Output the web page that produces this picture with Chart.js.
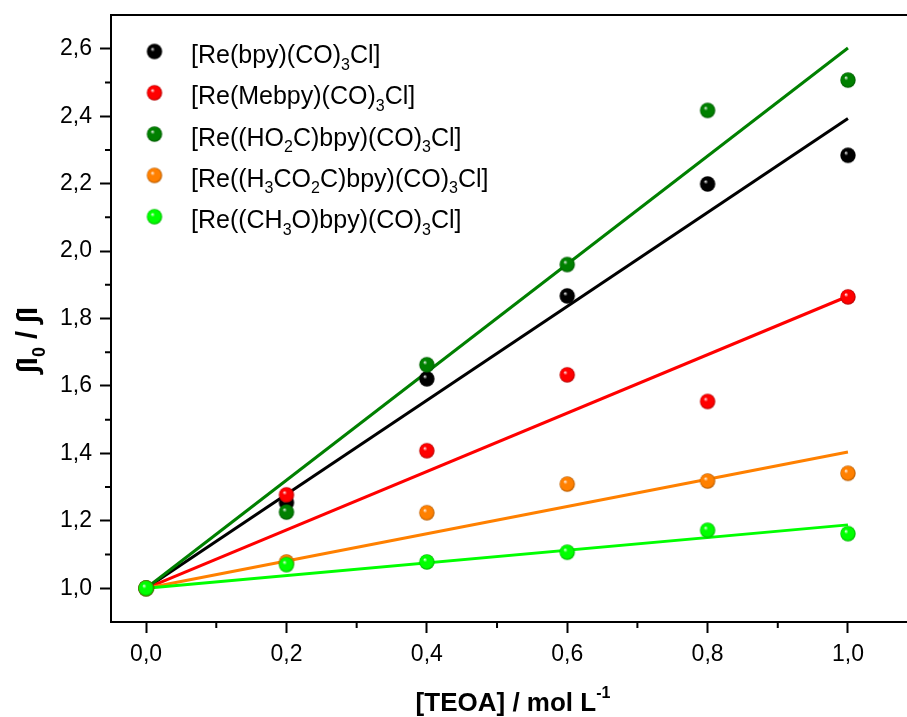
<!DOCTYPE html>
<html>
<head>
<meta charset="utf-8">
<script src="https://cdn.jsdelivr.net/npm/chart.js@4/dist/chart.umd.min.js"></script>
<style>
  html, body { margin: 0; padding: 0; background: #fff; overflow: hidden; }
  #chart { display: block; }
</style>
</head>
<body>
<canvas id="chart" width="907" height="717"></canvas>
<script>
// TEOA concentration (mol/L) and quenching ratios per complex
const teoa = [0, 0.2, 0.4, 0.6, 0.8, 1.0];
const reBpy = [1.0, 1.254, 1.621, 1.867, 2.199, 2.284];
const reMebpy = [1.0, 1.277, 1.408, 1.633, 1.554, 1.864];
const reHO2Cbpy = [1.0, 1.226, 1.663, 1.960, 2.417, 2.507];
const reH3CO2Cbpy = [1.0, 1.078, 1.224, 1.309, 1.318, 1.341];
const reCH3Obpy = [1.0, 1.070, 1.078, 1.107, 1.172, 1.162];

// linear fits, value at [TEOA] = 0 and 1
const fitStart = [1.0, 1.0, 1.0, 1.0, 1.0];
const fitEnd = [2.393, 1.866, 2.602, 1.404, 1.188];

const names = [
  "[Re(bpy)(CO)_3Cl]",
  "[Re(Mebpy)(CO)_3Cl]",
  "[Re((HO_2C)bpy)(CO)_3Cl]",
  "[Re((H_3CO_2C)bpy)(CO)_3Cl]",
  "[Re((CH_3O)bpy)(CO)_3Cl]"
];
const colors = ["#000000", "#ff0000", "#008000", "#ff8000", "#00ff00"];
const series = [reBpy, reMebpy, reHO2Cbpy, reH3CO2Cbpy, reCH3Obpy];

const xMajor = [0, 0.2, 0.4, 0.6, 0.8, 1.0];
const xMinor = [0.1, 0.3, 0.5, 0.7, 0.9];
const yMajor = [1.0, 1.2, 1.4, 1.6, 1.8, 2.0, 2.2, 2.4, 2.6];
const yMinor = [1.1, 1.3, 1.5, 1.7, 1.9, 2.1, 2.3, 2.5];

const FONT = '"Liberation Sans", Arial, sans-serif';

// shaded ball marker
function darken(hex, f) {
  const n = parseInt(hex.slice(1), 16);
  const r = Math.round(((n >> 16) & 255) * f);
  const g = Math.round(((n >> 8) & 255) * f);
  const b = Math.round((n & 255) * f);
  return `rgb(${r},${g},${b})`;
}
function makeBall(color, r) {
  const size = Math.ceil(r * 2 + 2);
  const c = document.createElement("canvas");
  c.width = size; c.height = size;
  const g = c.getContext("2d");
  const m = size / 2;
  const grad = g.createRadialGradient(m - r * 0.3, m - r * 0.35, 0, m, m, r);
  grad.addColorStop(0, "#ffffff");
  grad.addColorStop(0.28, color);
  grad.addColorStop(0.8, color);
  grad.addColorStop(1, darken(color, 0.7));
  g.fillStyle = grad;
  g.beginPath();
  g.arc(m, m, r, 0, Math.PI * 2);
  g.fill();
  return c;
}
const balls = colors.map(c => makeBall(c, 7.7));

// draws "A_2B" style text with subscripts / "^" superscripts
function drawRich(ctx, str, x, y, size, bold) {
  const w = bold ? "bold " : "";
  const parts = str.split(/([_^]-?\d)/).filter(s => s.length);
  let cx = x;
  for (const p of parts) {
    if (p[0] === "_" || p[0] === "^") {
      ctx.font = w + Math.round(size * 0.62) + "px " + FONT;
      const dy = p[0] === "_" ? size * 0.26 : -size * 0.5;
      ctx.fillText(p.slice(1), cx, y + dy);
      cx += ctx.measureText(p.slice(1)).width;
    } else {
      ctx.font = w + size + "px " + FONT;
      ctx.fillText(p, cx, y);
      cx += ctx.measureText(p).width;
    }
  }
  return cx - x;
}
function richWidth(ctx, str, size, bold) {
  ctx.save();
  ctx.globalAlpha = 0;
  const wd = drawRich(ctx, str, 0, -1000, size, bold);
  ctx.restore();
  return wd;
}

const decorations = {
  id: "decorations",
  afterDraw(chart) {
    const { ctx, chartArea, scales } = chart;
    ctx.save();
    ctx.strokeStyle = "#000";
    ctx.lineWidth = 2;
    // top frame
    ctx.beginPath();
    ctx.moveTo(chartArea.left - 1, chartArea.top);
    ctx.lineTo(chart.width, chartArea.top);
    ctx.stroke();
    // bottom axis runs on to the edge
    ctx.beginPath();
    ctx.moveTo(chartArea.right, chartArea.bottom);
    ctx.lineTo(chart.width, chartArea.bottom);
    ctx.stroke();
    // minor ticks
    ctx.beginPath();
    for (const v of xMinor) {
      const px = scales.x.getPixelForValue(v);
      ctx.moveTo(px, chartArea.bottom);
      ctx.lineTo(px, chartArea.bottom + 6);
    }
    for (const v of yMinor) {
      const py = scales.y.getPixelForValue(v);
      ctx.moveTo(chartArea.left, py);
      ctx.lineTo(chartArea.left - 6, py);
    }
    ctx.stroke();

    // legend
    ctx.fillStyle = "#000";
    ctx.textBaseline = "alphabetic";
    ctx.textAlign = "left";
    names.forEach((name, i) => {
      const cy = 51.5 + i * 41.3;
      ctx.drawImage(balls[i], 154.5 - balls[i].width / 2, cy - balls[i].height / 2);
      drawRich(ctx, name, 191, cy + 11.5, 25, false);
    });

    // x title
    const xt = "[TEOA] / mol L^-1";
    const xw = richWidth(ctx, xt, 26, true);
    ctx.fillStyle = "#000";
    drawRich(ctx, xt, 513 - xw / 2, 711, 26, true);

    // y title
    const yt = "\u222BI_0 / \u222BI";
    const yw = richWidth(ctx, yt, 29, true);
    ctx.translate(37, 340);
    ctx.rotate(-Math.PI / 2);
    ctx.fillStyle = "#000";
    drawRich(ctx, yt, -yw / 2, 0, 29, true);
    ctx.restore();
  }
};

const datasets = [];
series.forEach((vals, i) => {
  datasets.push({
    type: "line",
    label: names[i] + " fit",
    data: [{ x: teoa[0], y: fitStart[i] }, { x: teoa[teoa.length - 1], y: fitEnd[i] }],
    borderColor: colors[i],
    borderWidth: 3,
    pointRadius: 0,
    fill: false,
    order: 20 - i
  });
});
series.forEach((vals, i) => {
  datasets.push({
    type: "scatter",
    label: names[i],
    data: teoa.map((x, k) => ({ x, y: vals[k] })),
    pointStyle: balls[i],
    showLine: false,
    order: 10 - i
  });
});

const fmt = v => v.toFixed(1).replace(".", ",");

new Chart(document.getElementById("chart"), {
  data: { datasets },
  options: {
    responsive: false,
    animation: false,
    layout: { padding: { top: 15, right: 0, left: 0, bottom: 0 } },
    plugins: { legend: { display: false }, tooltip: { enabled: false } },
    scales: {
      x: {
        type: "linear",
        min: -0.05,
        max: 1.077,
        afterBuildTicks: s => { s.ticks = xMajor.map(v => ({ value: v })); },
        afterFit: s => { s.height = 95; s.paddingLeft = 0; s.paddingRight = 0; },
        ticks: {
          callback: v => fmt(v),
          color: "#000",
          font: { family: FONT, size: 23 },
          padding: 8,
          maxRotation: 0
        },
        grid: { drawOnChartArea: false, tickLength: 11, tickWidth: 2, tickColor: "#000" },
        border: { display: true, color: "#000", width: 2 }
      },
      y: {
        type: "linear",
        min: 0.9,
        max: 2.7,
        afterBuildTicks: s => { s.ticks = yMajor.map(v => ({ value: v })); },
        afterFit: s => { s.width = 111; s.paddingTop = 0; s.paddingBottom = 0; },
        ticks: {
          callback: v => fmt(v),
          color: "#000",
          font: { family: FONT, size: 23 },
          padding: 8
        },
        grid: { drawOnChartArea: false, tickLength: 11, tickWidth: 2, tickColor: "#000" },
        border: { display: true, color: "#000", width: 2 }
      }
    }
  },
  plugins: [decorations]
});
</script>
</body>
</html>
